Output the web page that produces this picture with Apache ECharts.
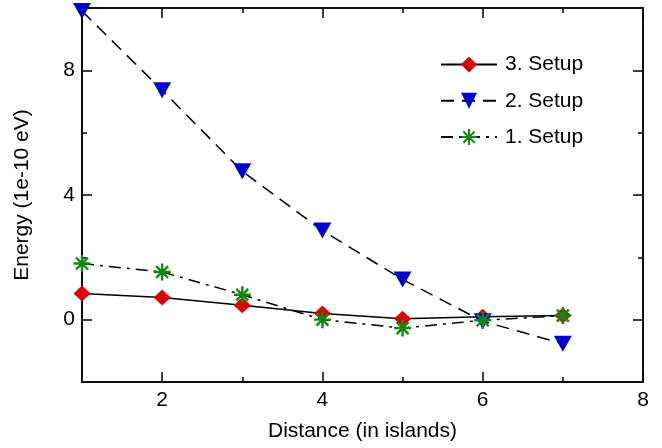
<!DOCTYPE html>
<html>
<head>
<meta charset="utf-8">
<script src="https://cdn.jsdelivr.net/npm/echarts@6/dist/echarts.min.js"></script>
<style>
    html, body { margin: 0; padding: 0; background: #fff; }
    #chart { width: 662px; height: 448px; }
</style>
</head>
<body>
<div id="chart"></div>
<script>
    // values
    let distance = [1, 2, 3, 4, 5, 6, 7];
    let setup3 = [0.84, 0.71, 0.46, 0.2, 0.03, 0.09, 0.13];
    let setup2 = [9.9, 7.36, 4.76, 2.86, 1.29, -0.05, -0.77];
    let setup1 = [1.8, 1.53, 0.8, 0.0, -0.27, -0.02, 0.13];
    let xLabels = [2, 4, 6, 8];
    let xMinor = [3, 5, 7];
    let yLabels = [0, 4, 8];
    let yMinor = [2, 6];

    let toPairs = (ys)=> distance.map((x, i)=> [x, ys[i]]);

    let asterisk = 'path://M0,-10L0,10M-10,0L10,0M-7,-7L7,7M-7,7L7,-7';
    let font = 'Liberation Sans, Arial, sans-serif';
    let black = '#000';

    // one axis: major or minor ticks on a given side
    let makeAxis = function (position, min, max, ticks, len, extra) {
        return Object.assign({
            type: 'value', position: position, min: min, max: max,
            axisLine: {show: true, onZero: false, lineStyle: {color: black, width: 1.5}},
            axisTick: {show: true, inside: true, length: len, customValues: ticks,
                lineStyle: {color: black, width: 1.5}},
            axisLabel: {show: false},
            splitLine: {show: false}
        }, extra || {});
    };

    let myChart = echarts.init(document.getElementById('chart'));
    let option = {
        animation: false,
        textStyle: {fontFamily: font},
        grid: {left: 82, right: 19, top: 8, bottom: 66, containLabel: false, outerBoundsMode: 'none'},
        legend: {
            orient: 'vertical',
            left: 435,
            top: 49,
            itemWidth: 56,
            itemHeight: 20,
            itemGap: 15.3,
            textStyle: {fontSize: 21, color: black, fontFamily: font, padding: [0, 0, 0, 3]},
            data: ['3. Setup', '2. Setup', '1. Setup']
        },
        xAxis: [
            makeAxis('bottom', 1, 8, xLabels, 10, {
                name: 'Distance (in islands)', nameLocation: 'middle', nameGap: 39,
                nameTextStyle: {fontSize: 21, color: black},
                axisLabel: {show: true, customValues: xLabels, fontSize: 21, color: black, margin: 8}
            }),
            makeAxis('bottom', 1, 8, xMinor, 5),
            makeAxis('top', 1, 8, xLabels, 10),
            makeAxis('top', 1, 8, xMinor, 5)
        ],
        yAxis: [
            makeAxis('left', -2, 10, yLabels, 10, {
                name: 'Energy (1e-10 eV)', nameLocation: 'middle', nameGap: 49,
                nameTextStyle: {fontSize: 21, color: black},
                axisLabel: {show: true, customValues: yLabels, fontSize: 21, color: black, margin: 7}
            }),
            makeAxis('left', -2, 10, yMinor, 5),
            makeAxis('right', -2, 10, yLabels, 10),
            makeAxis('right', -2, 10, yMinor, 5)
        ],
        series: [
            {
                name: '3. Setup', type: 'line', data: toPairs(setup3),
                symbol: 'diamond', symbolSize: [17, 16],
                itemStyle: {color: '#dd0000'},
                lineStyle: {color: black, width: 1.5, type: 'solid'},
                z: 2
            },
            {
                name: '2. Setup', type: 'line', data: toPairs(setup2),
                symbol: 'triangle', symbolRotate: 180, symbolSize: [18, 16],
                itemStyle: {color: '#0000cc'},
                lineStyle: {color: black, width: 1.5, type: [13, 8]},
                z: 3
            },
            {
                name: '1. Setup', type: 'line', data: toPairs(setup1),
                symbol: asterisk, symbolSize: 17,
                itemStyle: {color: 'rgba(0,0,0,0)', borderColor: '#118811', borderWidth: 2.4},
                lineStyle: {color: black, width: 1.5, type: [12, 6, 3, 6]},
                z: 4
            }
        ]
    };
    myChart.setOption(option);
</script>
</body>
</html>
